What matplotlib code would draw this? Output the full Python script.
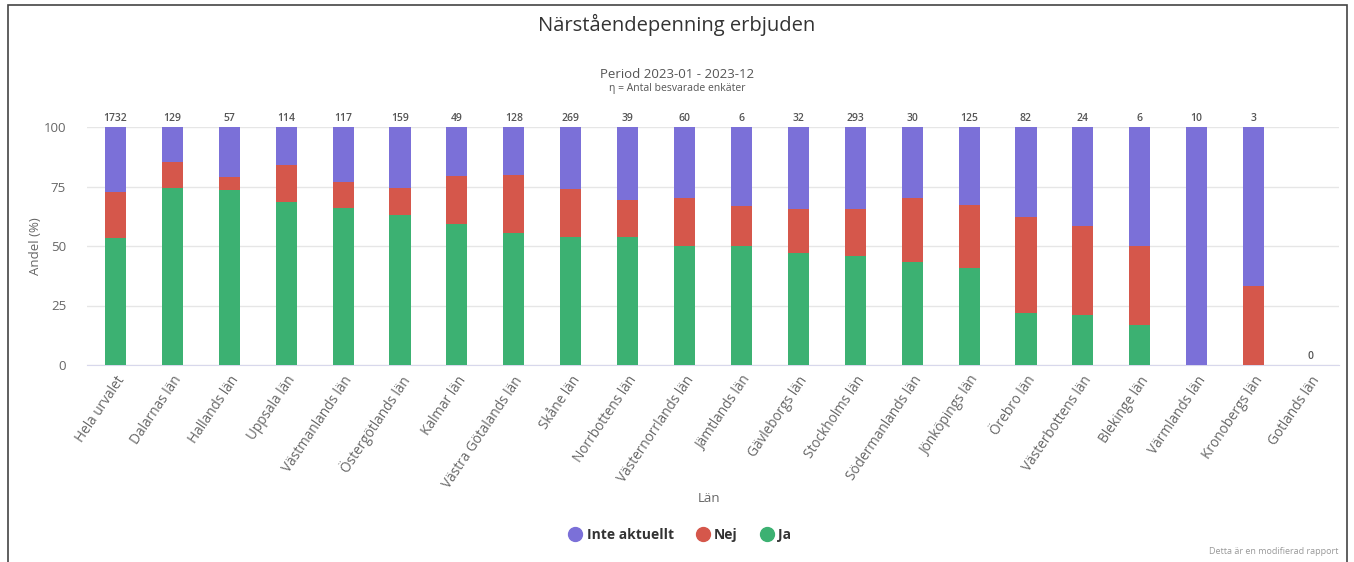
import matplotlib.pyplot as plt
from matplotlib.patches import Rectangle
from matplotlib.lines import Line2D

plt.rcParams['font.family'] = ['Open Sans', 'DejaVu Sans']

PURPLE = '#7b70d8'
RED = '#d5574b'
GREEN = '#3cb172'
GRID = '#e6e6e6'
TEXT = '#666666'

lan = [
    'Hela urvalet', 'Dalarnas län', 'Hallands län', 'Uppsala län', 'Västmanlands län',
    'Östergötlands län', 'Kalmar län', 'Västra Götalands län', 'Skåne län', 'Norrbottens län',
    'Västernorrlands län', 'Jämtlands län', 'Gävleborgs län', 'Stockholms län',
    'Södermanlands län', 'Jönköpings län', 'Örebro län', 'Västerbottens län',
    'Blekinge län', 'Värmlands län', 'Kronobergs län', 'Gotlands län',
]
antal = [1732, 129, 57, 114, 117, 159, 49, 128, 269, 39, 60, 6, 32, 293, 30, 125, 82, 24, 6, 10, 3, 0]

ja = [53.4, 74.4, 73.7, 68.4, 65.8, 62.9, 59.2, 55.5, 53.9, 53.8, 50.0, 50.0, 46.9, 45.7,
      43.3, 40.8, 22.0, 20.8, 16.7, 0.0, 0.0, 0.0]
nej = [19.3, 10.9, 5.3, 15.8, 11.1, 11.3, 20.4, 24.2, 20.1, 15.4, 20.0, 16.7, 18.7, 19.8,
       26.7, 26.4, 40.2, 37.5, 33.3, 0.0, 33.3, 0.0]
inte = [27.3, 14.7, 21.0, 15.8, 23.1, 25.8, 20.4, 20.3, 26.0, 30.8, 30.0, 33.3, 34.4, 34.5,
        30.0, 32.8, 37.8, 41.7, 50.0, 100.0, 66.7, 0.0]

W, H = 1354, 562
fig = plt.figure(figsize=(W / 100, H / 100), dpi=100)
fig.patches.append(Rectangle((8 / W, -0.01), (1347 - 8) / W, 1.01 - 5 / H,
                             transform=fig.transFigure, fill=False,
                             edgecolor='#444444', linewidth=1.2))

ax = fig.add_axes([87 / W, 197 / H, (1339 - 87) / W, 238 / H])
x = list(range(len(lan)))
bw = 0.37
bottom_nej = ja
bottom_inte = [a + b for a, b in zip(ja, nej)]
ax.bar(x, ja, bw, color=GREEN, zorder=3)
ax.bar(x, nej, bw, bottom=bottom_nej, color=RED, zorder=3)
ax.bar(x, inte, bw, bottom=bottom_inte, color=PURPLE, zorder=3)

for i, n in enumerate(antal):
    top = ja[i] + nej[i] + inte[i]
    ax.text(i, top + 1.2, str(n), ha='center', va='bottom', fontsize=7.5,
            color='#555555', fontweight='semibold')

ax.set_xlim(-0.5, len(lan) - 0.5)
ax.set_ylim(0, 100)
ax.set_yticks([0, 25, 50, 75, 100])
ax.yaxis.grid(True, color=GRID, linewidth=1, zorder=0)
ax.set_axisbelow(True)
for s in ['top', 'right', 'left']:
    ax.spines[s].set_visible(False)
ax.spines['bottom'].set_color('#d8d8ec')
ax.tick_params(axis='y', length=0, labelsize=9.5, labelcolor=TEXT, pad=15)
ax.tick_params(axis='x', length=0, pad=6)
ax.set_xticks(x)
ax.set_xticklabels(lan, rotation=56, ha='right', rotation_mode='anchor',
                   fontsize=9.8, color=TEXT)
ax.set_ylabel('Andel (%)', fontsize=9.5, color=TEXT)
ax.set_xlabel('Län', fontsize=9.5, color=TEXT)
ax.xaxis.set_label_coords(0.497, -0.534)
ax.yaxis.set_label_coords(-0.036, 0.5)

fig.text(0.5, 1 - 25 / H, 'Närståendepenning erbjuden', ha='center', va='center',
         fontsize=14.5, color='#333333')
fig.text(0.5, 1 - 74 / H, 'Period 2023-01 - 2023-12', ha='center', va='center',
         fontsize=9.5, color='#555555')
fig.text(0.5, 1 - 89 / H, 'η = Antal besvarade enkäter', ha='center', va='center',
         fontsize=7.5, color='#555555')

handles = [Line2D([], [], marker='o', linestyle='', markersize=10, color=c)
           for c in (PURPLE, RED, GREEN)]
leg = fig.legend(handles, ['Inte aktuellt', 'Nej', 'Ja'], loc='center',
                 bbox_to_anchor=(0.502, 1 - 535 / H), ncol=3, frameon=False,
                 handletextpad=0.3, columnspacing=1.6, handlelength=1.0,
                 prop={'size': 10, 'weight': 'bold'})
for t in leg.get_texts():
    t.set_color('#333333')

fig.text(1338 / W, 1 - 552 / H, 'Detta är en modifierad rapport', ha='right',
         va='center', fontsize=6.5, color='#999999')

fig.savefig('out.png', dpi=100)
